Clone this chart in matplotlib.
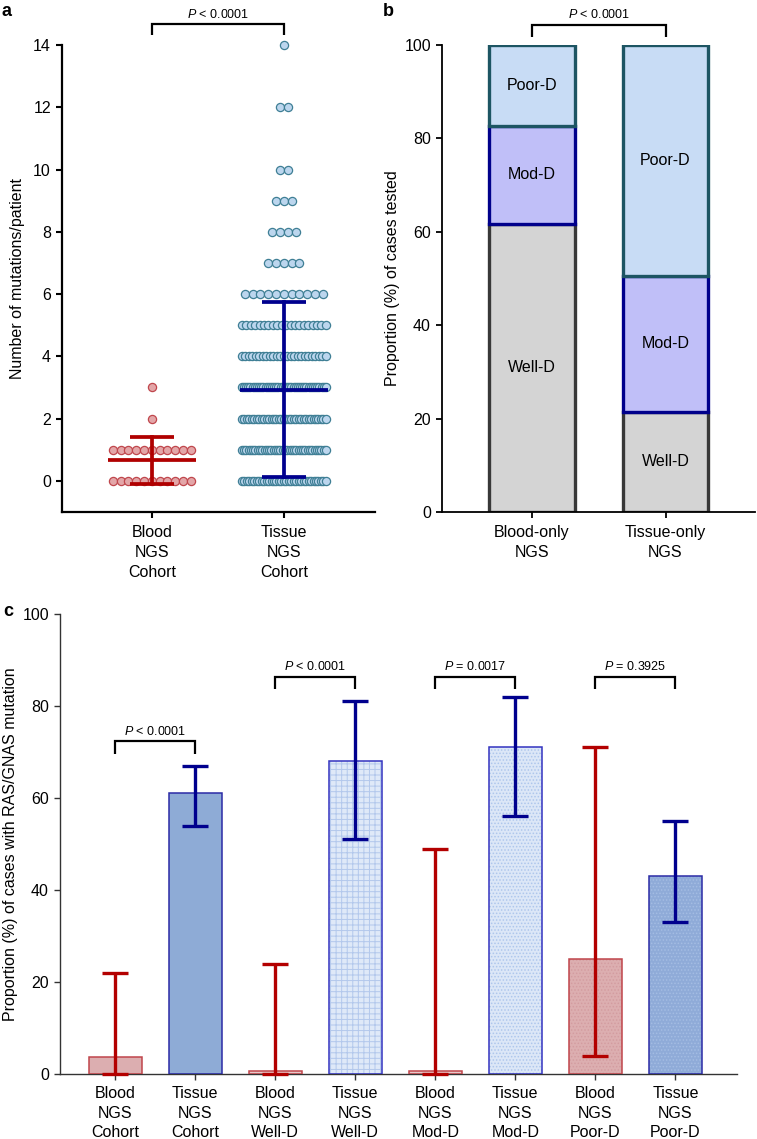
import numpy as np
import matplotlib
matplotlib.use("Agg")
import matplotlib.pyplot as plt

plt.rcParams['font.family'] = ['Liberation Sans', 'DejaVu Sans']
plt.rcParams['mathtext.fontset'] = 'custom'
plt.rcParams['mathtext.it'] = 'Liberation Sans:italic'
plt.rcParams['mathtext.rm'] = 'Liberation Sans'

# ---------------- Panel a data ----------------
a_groups = ["Blood\nNGS\nCohort", "Tissue\nNGS\nCohort"]
blood_values = [0, 1, 2, 3]
blood_counts = [11, 11, 1, 1]
tissue_values = [0, 1, 2, 3, 4, 5, 6, 7, 8, 9, 10, 12, 14]
tissue_counts = [35, 38, 35, 40, 25, 20, 11, 5, 4, 3, 2, 2, 1]
a_mean = [0.66, 2.92]
a_sd = [0.76, 2.81]
a_pvalue = "< 0.0001"

# ---------------- Panel b data ----------------
b_groups = ["Blood-only\nNGS", "Tissue-only\nNGS"]
b_segments = ["Well-D", "Mod-D", "Poor-D"]
b_well = [61.7, 21.5]
b_mod = [21.0, 29.0]
b_poor = [17.3, 49.5]
b_pvalue = "< 0.0001"

# ---------------- Panel c data ----------------
c_labels = ["Blood\nNGS\nCohort", "Tissue\nNGS\nCohort", "Blood\nNGS\nWell-D",
            "Tissue\nNGS\nWell-D", "Blood\nNGS\nMod-D", "Tissue\nNGS\nMod-D",
            "Blood\nNGS\nPoor-D", "Tissue\nNGS\nPoor-D"]
c_values = [3.7, 61, 0.7, 68, 0.7, 71, 25, 43]
c_low = [0, 54, 0, 51, 0, 56, 4, 33]
c_high = [22, 67, 24, 81, 49, 82, 71, 55]
c_pvalues = ["< 0.0001", "< 0.0001", "= 0.0017", "= 0.3925"]
c_bracket_y = [72.3, 86.3, 86.3, 86.3]

FS = 11.5
PFS = 9
LS = 1.4

W, H = 757, 1139
fig = plt.figure(figsize=(W / 100, H / 100), dpi=100)


def rect(l, t, r, b):
    return [l / W, 1 - b / H, (r - l) / W, (b - t) / H]


def bracket(ax, x0, x1, y, leg, text, tpad, lw=1.6, fs=PFS):
    ax.plot([x0, x0, x1, x1], [y - leg, y, y, y - leg], color='black', lw=lw,
            clip_on=False, solid_capstyle='butt', solid_joinstyle='miter')
    ax.text((x0 + x1) / 2, y + tpad, r"$\it{P}$ " + text, ha='center', va='bottom',
            fontsize=fs, clip_on=False)


# ======================= Panel a =======================
axA = fig.add_axes(rect(62, 45, 375, 512))
spacing = 0.059
maxhalf = 0.318


def offsets(n):
    if (n - 1) * spacing / 2 <= maxhalf:
        return (np.arange(n) - (n - 1) / 2) * spacing
    return np.linspace(-maxhalf, maxhalf, n)


blood_face, blood_edge = '#e3a6a8', '#c0474d'
tis_face, tis_edge = '#bcd6ee', '#3f7f95'
for i, (vals, cnts, fc, ec) in enumerate([(blood_values, blood_counts, blood_face, blood_edge),
                                           (tissue_values, tissue_counts, tis_face, tis_edge)]):
    for v, n in zip(vals, cnts):
        xs = i + offsets(n)
        axA.plot(xs, [v] * n, 'o', ms=5.9, mfc=fc, mec=ec, mew=0.9, ls='none',
                 clip_on=False, zorder=2)

line_cols = ['#b00000', '#00008e']
for i in range(2):
    c = line_cols[i]
    m, s = a_mean[i], a_sd[i]
    axA.plot([i - 0.335, i + 0.335], [m, m], color=c, lw=2.7, zorder=3, solid_capstyle='butt')
    axA.plot([i, i], [m - s, m + s], color=c, lw=2.7, zorder=3)
    for yy in (m - s, m + s):
        axA.plot([i - 0.167, i + 0.167], [yy, yy], color=c, lw=2.7, zorder=3,
                 solid_capstyle='butt')

axA.set_xlim(-0.68, 1.69)
axA.set_ylim(-1, 14)
axA.set_yticks(np.arange(0, 15, 2))
axA.set_xticks([0, 1])
axA.set_xticklabels(a_groups, linespacing=LS)
axA.set_ylabel("Number of mutations/patient", fontsize=FS, labelpad=6)
for sp in ['top', 'right']:
    axA.spines[sp].set_visible(False)
for sp in ['left', 'bottom']:
    axA.spines[sp].set_linewidth(1.6)
axA.tick_params(axis='both', labelsize=FS, width=1.5, length=4.5, direction='out')
axA.tick_params(axis='x', pad=5)
bracket(axA, 0, 1, 14.67, 0.36, a_pvalue, 0.1)

# ======================= Panel b =======================
axB = fig.add_axes(rect(442, 45, 755, 512))
xb = np.arange(2)
bw = 0.64
seg_face = ['#d4d4d4', '#c0bff8', '#c8dcf5']
seg_edge = ['#383838', '#00008b', '#1d5563']
bottoms = np.zeros(2)
for k, vals in enumerate([b_well, b_mod, b_poor]):
    vals = np.array(vals)
    axB.bar(xb, vals, bw, bottom=bottoms, color=seg_face[k], edgecolor=seg_edge[k],
            linewidth=2.4, zorder=2)
    for j in range(2):
        axB.text(xb[j], bottoms[j] + vals[j] / 2, b_segments[k], ha='center', va='center',
                 fontsize=FS, zorder=5)
    bottoms = bottoms + vals

axB.set_xlim(-0.674, 1.67)
axB.set_ylim(0, 100)
axB.set_yticks(np.arange(0, 101, 20))
axB.set_xticks(xb)
axB.set_xticklabels(b_groups, linespacing=LS)
axB.set_ylabel("Proportion (%) of cases tested", fontsize=FS, labelpad=3)
for sp in ['top', 'right']:
    axB.spines[sp].set_visible(False)
for sp in ['left', 'bottom']:
    axB.spines[sp].set_linewidth(1.3)
axB.tick_params(axis='both', labelsize=FS, width=1.3, length=4.5, direction='out')
axB.tick_params(axis='x', pad=5)
bracket(axB, 0, 1, 104.3, 2.6, b_pvalue, 0.8)

# ======================= Panel c =======================
axC = fig.add_axes(rect(60, 614, 737, 1074))
xc = np.arange(len(c_values))
cw = 0.66
styles = [
    # (face, hatch, hatchcolor, edge)
    ('#dcaeb0', None, None, '#c0454b'),
    ('#8eabd6', None, None, '#2b2ba6'),
    ('#e8c8c9', None, None, '#c0454b'),
    ('#dfe9f8', '+++', '#b3c8ec', '#3333c0'),
    ('#e8c8c9', None, None, '#c0454b'),
    ('#dce7f7', '.....', '#aec6ec', '#3333c0'),
    ('#dcaeb0', '.....', '#d39ca0', '#c0454b'),
    ('#8fabd8', '.....', '#a4bde3', '#2b2ba6'),
]
plt.rcParams['hatch.linewidth'] = 0.7
for i, v in enumerate(c_values):
    face, hatch, hcol, edge = styles[i]
    if hatch:
        axC.bar(xc[i], v, cw, color=face, edgecolor=hcol, hatch=hatch, linewidth=0, zorder=2)
    else:
        axC.bar(xc[i], v, cw, color=face, linewidth=0, zorder=2)
    axC.bar(xc[i], v, cw, fill=False, edgecolor=edge, linewidth=1.1, zorder=3)

err_cols = ['#b30000', '#00008e']
for i, v in enumerate(c_values):
    col = err_cols[i % 2]
    axC.errorbar(xc[i], v, yerr=[[v - c_low[i]], [c_high[i] - v]], fmt='none', ecolor=col,
                 elinewidth=2.4, capsize=9.5, capthick=2.4, zorder=4, clip_on=False)

for k in range(4):
    bracket(axC, 2 * k, 2 * k + 1, c_bracket_y[k], 2.7, c_pvalues[k], 0.8)

axC.set_xlim(-0.69, 7.77)
axC.set_ylim(0, 100)
axC.set_yticks(np.arange(0, 101, 20))
axC.set_xticks(xc)
axC.set_xticklabels(c_labels, linespacing=LS)
axC.set_ylabel("Proportion (%) of cases with RAS/GNAS mutation", fontsize=FS, labelpad=3)
for sp in ['top', 'right']:
    axC.spines[sp].set_visible(False)
for sp in ['left', 'bottom']:
    axC.spines[sp].set_linewidth(1.0)
    axC.spines[sp].set_color('#333333')
axC.tick_params(axis='both', labelsize=FS, width=1.0, length=4.5, direction='out', color='#333333')
axC.tick_params(axis='x', pad=4)

# Panel letters
fig.text(1 / W, 1 - 16 / H, 'a', fontsize=13, fontweight='bold', va='baseline')
fig.text(383 / W, 1 - 16 / H, 'b', fontsize=13, fontweight='bold', va='baseline')
fig.text(3 / W, 1 - 616 / H, 'c', fontsize=13, fontweight='bold', va='baseline')

fig.savefig('out.png', dpi=100)
